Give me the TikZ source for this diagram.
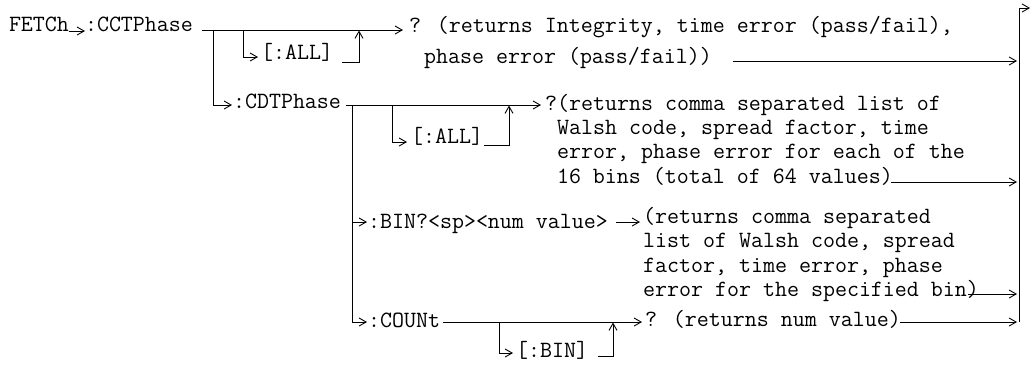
\documentclass[tikz,border=0pt]{standalone}
\usepackage{fontspec}
\usetikzlibrary{arrows.meta}
\tikzset{
  wire/.style={line width=0.9bp},
  arr/.style={wire, -{Straight Barb[length=7bp,width=8bp]}},
  lbl/.style={inner sep=0pt, outer sep=0pt, anchor=base west,
    font=\ttfamily\fontsize{23.3bp}{24bp}\selectfont},
}
\begin{document}
\begin{tikzpicture}[x=1bp,y=-1bp]
\useasboundingbox (0,0) rectangle (1031,364);
% command keywords
\node[lbl] (fetch)  at (9,31)    {FETCh};
\node[lbl] (cct)    at (85,31)   {:CCTPhase};
\node[lbl] (all1)   at (261,59)  {[:ALL]};
\node[lbl] (cdt)    at (233,108) {:CDTPhase};
\node[lbl] (all2)   at (411,143) {[:ALL]};
\node[lbl] (bin)    at (368,228) {:BIN?<sp><num value>};
\node[lbl] (count)  at (368,327) {:COUNt};
\node[lbl] (binopt) at (516,357) {[:BIN]};
% descriptions
\node[lbl] (r1a) at (409,32)  {? (returns Integrity, time error (pass/fail),};
\node[lbl] (r1b) at (424,63)  {phase error (pass/fail))};
\node[lbl] (r2a) at (545,110) {?(returns comma separated list of};
\node[lbl] (r2b) at (557,134) {Walsh code, spread factor, time};
\node[lbl] (r2c) at (557,158) {error, phase error for each of the};
\node[lbl] (r2d) at (557,183) {16 bins (total of 64 values)};
\node[lbl] (r3a) at (643,223) {(returns comma separated};
\node[lbl] (r3b) at (643,247.5) {list of Walsh code, spread};
\node[lbl] (r3c) at (643,272) {factor, time error, phase};
\node[lbl] (r3d) at (643,296) {error for the specified bin)};
\node[lbl] (r4)  at (645,326) {? (returns num value)};
% junction coordinates
\coordinate (cctS) at (202,30);
\coordinate (cctT) at (403,30);
\coordinate (jCDT) at (213,30);
\coordinate (jA1) at (243,30);
\coordinate (a1S) at (342,62);
\coordinate (a1T) at (359,30.5);
\coordinate (r1bS) at (733,61);
\coordinate (r1bT) at (1017,61);
\coordinate (vBot) at (1019,322);
\coordinate (vTop) at (1019,8);
\coordinate (vOut) at (1030,8);
\coordinate (cdtS) at (346,105);
\coordinate (cdtT) at (541,105);
\coordinate (jBIN) at (352,105);
\coordinate (jBINmid) at (352,222);
\coordinate (jA2) at (392,105);
\coordinate (a2S) at (484,145);
\coordinate (a2T) at (509,105.5);
\coordinate (r2S) at (891,182);
\coordinate (r2T) at (1017,182);
\coordinate (binS) at (616,222);
\coordinate (binT) at (640,222);
\coordinate (r3S) at (968,294);
\coordinate (r3T) at (1017,294);
\coordinate (cntS) at (443,322);
\coordinate (cntT) at (642,322);
\coordinate (jB) at (499,322);
\coordinate (bS) at (598,356);
\coordinate (bT) at (613,322.5);
\coordinate (r4S) at (900,322);
\coordinate (r4T) at (1017,322);
% connectors
\draw[arr] (fetch.base east) -- (cct.base west);
\draw[arr] (cctS) -- (cctT);
\draw[arr] (jCDT) |- (232,105);
\draw[arr] (jA1) |- (258,57);
\draw[arr] (a1S) -| (a1T);
\draw[arr] (r1bS) -- (r1bT);
\draw[arr] (vBot) -- (vTop) -- (vOut);
\draw[arr] (cdtS) -- (cdtT);
\draw[arr] (jBIN) |- (367,322);
\draw[arr] (jBINmid) -- (367,222);
\draw[arr] (jA2) |- (407,142);
\draw[arr] (a2S) -| (a2T);
\draw[arr] (r2S) -- (r2T);
\draw[arr] (binS) -- (binT);
\draw[arr] (r3S) -- (r3T);
\draw[arr] (cntS) -- (cntT);
\draw[arr] (jB) |- (513,353);
\draw[arr] (bS) -| (bT);
\draw[arr] (r4S) -- (r4T);
\end{tikzpicture}
\end{document}
